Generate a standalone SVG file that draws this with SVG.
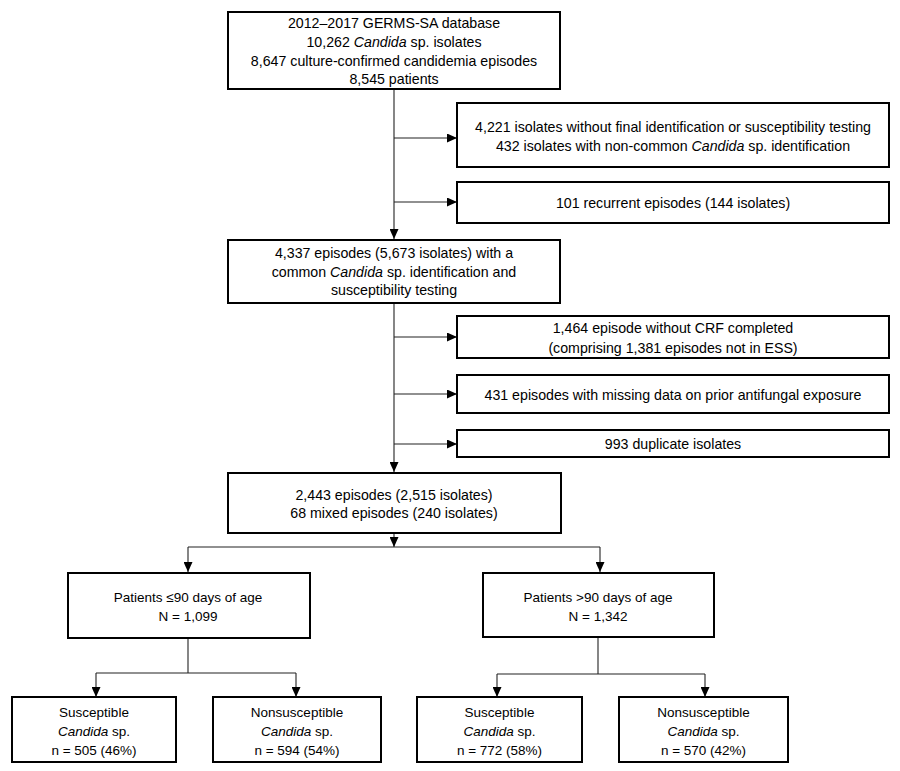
<svg xmlns="http://www.w3.org/2000/svg" width="900" height="771" viewBox="0 0 900 771">
<style>
.box{fill:#fff;stroke:#000;stroke-width:2}
.t{font-family:"Liberation Sans",Arial,sans-serif;font-size:14.2px;fill:#000;text-anchor:middle}
.s{font-size:13.5px}
.i{font-style:italic}
.c{fill:none;stroke:#222;stroke-width:1.1}
</style>
<defs>
<marker id="ah" markerUnits="userSpaceOnUse" markerWidth="10" markerHeight="9" refX="10" refY="4.5" orient="auto">
<path d="M0,0 L10,4.5 L0,9 z" fill="#000"/>
</marker>
</defs>
<rect width="900" height="771" fill="#fff"/>
<g id="connectors">
<line class="c" x1="394" y1="89" x2="394" y2="239" marker-end="url(#ah)"/>
<line class="c" x1="394" y1="138" x2="457" y2="138" marker-end="url(#ah)"/>
<line class="c" x1="394" y1="202" x2="457" y2="202" marker-end="url(#ah)"/>
<line class="c" x1="394" y1="303" x2="394" y2="472" marker-end="url(#ah)"/>
<line class="c" x1="394" y1="337" x2="457" y2="337" marker-end="url(#ah)"/>
<line class="c" x1="394" y1="394" x2="457" y2="394" marker-end="url(#ah)"/>
<line class="c" x1="394" y1="444" x2="457" y2="444" marker-end="url(#ah)"/>
<line class="c" x1="394" y1="533" x2="394" y2="547" marker-end="url(#ah)"/>
<line class="c" x1="188" y1="547" x2="600" y2="547"/>
<line class="c" x1="188" y1="547" x2="188" y2="572" marker-end="url(#ah)"/>
<line class="c" x1="600" y1="547" x2="600" y2="572" marker-end="url(#ah)"/>
<line class="c" x1="188" y1="638" x2="188" y2="673"/>
<line class="c" x1="96" y1="673" x2="296" y2="673"/>
<line class="c" x1="96" y1="673" x2="96" y2="697" marker-end="url(#ah)"/>
<line class="c" x1="296" y1="673" x2="296" y2="697" marker-end="url(#ah)"/>
<line class="c" x1="598" y1="637" x2="598" y2="674"/>
<line class="c" x1="497" y1="674" x2="705" y2="674"/>
<line class="c" x1="497" y1="674" x2="497" y2="697" marker-end="url(#ah)"/>
<line class="c" x1="705" y1="674" x2="705" y2="697" marker-end="url(#ah)"/>
</g>
<g id="n1">
<rect class="box" x="228" y="12" width="332" height="77"/>
<text class="t" x="394" y="28">2012–2017 GERMS-SA database</text>
<text class="t" x="394" y="47">10,262 <tspan class="i">Candida</tspan> sp. isolates</text>
<text class="t" x="394" y="66">8,647 culture-confirmed candidemia episodes</text>
<text class="t" x="394" y="84">8,545 patients</text>
</g>
<g id="e1">
<rect class="box" x="457" y="103" width="432" height="64"/>
<text class="t" x="673" y="132">4,221 isolates without final identification or susceptibility testing</text>
<text class="t" x="673" y="151">432 isolates with non-common <tspan class="i">Candida</tspan> sp. identification</text>
</g>
<g id="e2">
<rect class="box" x="457" y="182" width="432" height="41"/>
<text class="t" x="673" y="208">101 recurrent episodes (144 isolates)</text>
</g>
<g id="n2">
<rect class="box" x="228" y="240" width="332" height="63"/>
<text class="t" x="394" y="258">4,337 episodes (5,673 isolates) with a</text>
<text class="t" x="394" y="277">common <tspan class="i">Candida</tspan> sp. identification and</text>
<text class="t" x="394" y="295">susceptibility testing</text>
</g>
<g id="e3">
<rect class="box" x="457" y="316" width="432" height="42"/>
<text class="t" x="673" y="333">1,464 episode without CRF completed</text>
<text class="t" x="673" y="353">(comprising 1,381 episodes not in ESS)</text>
</g>
<g id="e4">
<rect class="box" x="457" y="375" width="432" height="38"/>
<text class="t" x="673" y="400">431 episodes with missing data on prior antifungal exposure</text>
</g>
<g id="e5">
<rect class="box" x="457" y="430" width="432" height="27"/>
<text class="t" x="673" y="449">993 duplicate isolates</text>
</g>
<g id="n3">
<rect class="box" x="228" y="473" width="333" height="60"/>
<text class="t" x="394" y="500">2,443 episodes (2,515 isolates)</text>
<text class="t" x="394" y="518">68 mixed episodes (240 isolates)</text>
</g>
<g id="n4">
<rect class="box" x="68" y="573" width="242" height="65"/>
<text class="t s" x="188" y="602">Patients ≤90 days of age</text>
<text class="t s" x="188" y="621">N = 1,099</text>
</g>
<g id="n5">
<rect class="box" x="483" y="573" width="231" height="64"/>
<text class="t s" x="598" y="602">Patients &gt;90 days of age</text>
<text class="t s" x="598" y="621">N = 1,342</text>
</g>
<g id="n6">
<rect class="box" x="12" y="697" width="164" height="65"/>
<text class="t s" x="94" y="717">Susceptible</text>
<text class="t s" x="94" y="736"><tspan class="i">Candida</tspan> sp.</text>
<text class="t s" x="94" y="755">n = 505 (46%)</text>
</g>
<g id="n7">
<rect class="box" x="213" y="697" width="168" height="65"/>
<text class="t s" x="297" y="717">Nonsusceptible</text>
<text class="t s" x="297" y="736"><tspan class="i">Candida</tspan> sp.</text>
<text class="t s" x="297" y="755">n = 594 (54%)</text>
</g>
<g id="n8">
<rect class="box" x="417" y="697" width="165" height="65"/>
<text class="t s" x="499.5" y="717">Susceptible</text>
<text class="t s" x="499.5" y="736"><tspan class="i">Candida</tspan> sp.</text>
<text class="t s" x="499.5" y="755">n = 772 (58%)</text>
</g>
<g id="n9">
<rect class="box" x="619" y="697" width="169" height="65"/>
<text class="t s" x="703.5" y="717">Nonsusceptible</text>
<text class="t s" x="703.5" y="736"><tspan class="i">Candida</tspan> sp.</text>
<text class="t s" x="703.5" y="755">n = 570 (42%)</text>
</g>
</svg>
